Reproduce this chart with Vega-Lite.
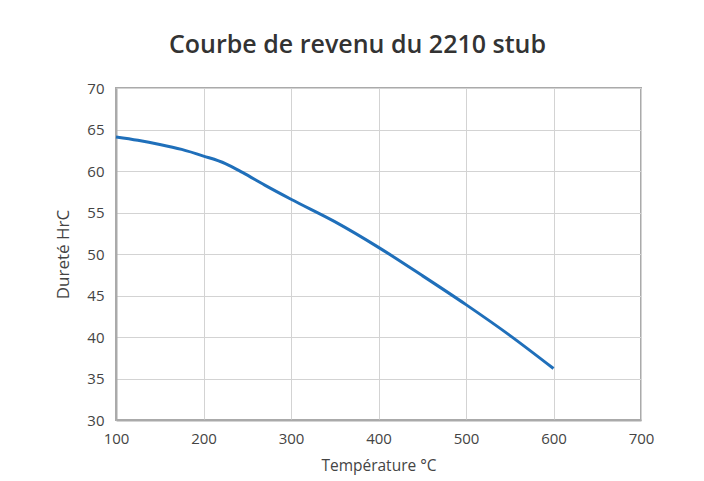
{
  "$schema": "https://vega.github.io/schema/vega-lite/v6.json",
  "autosize": {"type": "none"},
  "width": 525,
  "height": 332,
  "padding": {"left": 116, "top": 88, "right": 63, "bottom": 61},
  "background": "white",
  "title": {
    "text": "Courbe de revenu du 2210 stub",
    "anchor": "middle",
    "frame": "group",
    "dx": -21,
    "offset": 23,
    "font": "Open Sans",
    "fontSize": 25,
    "fontWeight": 600,
    "color": "#333333"
  },
  "config": {
    "view": {"stroke": "#AAAAAA", "strokeWidth": 2},
    "axis": {
      "labelFont": "Open Sans",
      "titleFont": "Open Sans",
      "labelColor": "#444444",
      "titleColor": "#444444",
      "labelFontSize": 15,
      "titleFontSize": 15.5,
      "titleFontWeight": "normal",
      "ticks": false,
      "domainColor": "#AAAAAA",
      "domainWidth": 2,
      "gridColor": "#D3D3D3",
      "gridWidth": 1,
      "gridOpacity": 1
    }
  },
  "data": {
    "values": [
      {"t": 100, "h": 64.1},
      {"t": 125, "h": 63.7},
      {"t": 150, "h": 63.2},
      {"t": 175, "h": 62.6},
      {"t": 200, "h": 61.8},
      {"t": 225, "h": 60.9},
      {"t": 245, "h": 59.8},
      {"t": 270, "h": 58.3},
      {"t": 300, "h": 56.6},
      {"t": 350, "h": 53.9},
      {"t": 400, "h": 50.8},
      {"t": 450, "h": 47.4},
      {"t": 500, "h": 43.9},
      {"t": 550, "h": 40.2},
      {"t": 600, "h": 36.2}
    ]
  },
  "mark": {"type": "line", "color": "#1F6FBA", "strokeWidth": 3, "interpolate": "monotone"},
  "encoding": {
    "x": {
      "field": "t",
      "type": "quantitative",
      "title": "Température °C",
      "scale": {"domain": [100, 700], "nice": false},
      "axis": {"values": [100, 200, 300, 400, 500, 600, 700], "labelPadding": 11, "titlePadding": 12, "labelFlush": false}
    },
    "y": {
      "field": "h",
      "type": "quantitative",
      "title": "Dureté HrC",
      "scale": {"domain": [30, 70], "nice": false, "zero": false},
      "axis": {"values": [30, 35, 40, 45, 50, 55, 60, 65, 70], "labelPadding": 12, "titlePadding": 14, "labelFlush": false, "titleFontSize": 17}
    }
  }
}
